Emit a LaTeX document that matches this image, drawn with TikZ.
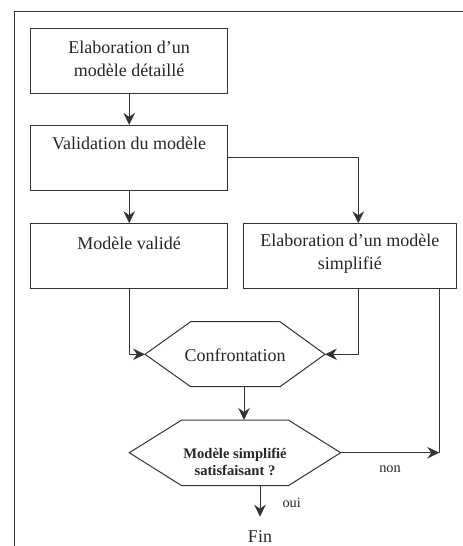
\documentclass[tikz,border=0pt]{standalone}
\usepackage{fontspec}
\setmainfont{Liberation Serif}
\usetikzlibrary{arrows.meta}
\begin{document}
\begin{tikzpicture}[x=1pt,y=-1pt,
  ln/.style={draw=black!80,line width=1pt},
  arr/.style={ln,-{Stealth[length=12pt,width=11.5pt,inset=4pt]}},
  boxnode/.style={ln,rectangle,minimum height=65pt,inner sep=0pt},
  txt/.style={inner sep=0pt,align=center,text=black!85,font=\fontsize{18}{22.5}\selectfont},
  btxt/.style={inner sep=0pt,align=center,text=black!85,font=\fontsize{14.6}{17}\selectfont\bfseries},
  stxt/.style={inner sep=0pt,text=black!85,font=\fontsize{14.3}{17}\selectfont}]
\useasboundingbox (0,0) rectangle (463,546);
% frame
\draw[ln] (14,546) -- (14,11) -- (463,11);
% boxes
\node[boxnode,minimum width=197pt] (b1) at (129.2,60.8) {};
\node[boxnode,minimum width=197pt] (b2) at (129.2,157.9) {};
\node[boxnode,minimum width=197pt] (b3) at (129.2,256.2) {};
\node[boxnode,minimum width=212.3pt] (b4) at (349.85,256.2) {};
\node[txt] (t1) at (129.2,59) {Elaboration d’un\\modèle détaillé};
\node[txt] (t2) at (129.2,143.5) {Validation du modèle};
\node[txt] (t3) at (129.2,243) {Modèle validé};
\node[txt] (t4) at (349.85,253.5) {Elaboration d’un modèle\\simplifié};
% hexagons
\coordinate (conf) at (235,354.3);
\coordinate (cw) at (145,354.3);
\coordinate (ce) at (325,354.3);
\draw[ln] (cw) -- (190.7,321.7) -- (280,321.7) -- (ce) -- (280,386.7) -- (190.7,386.7) -- cycle;
\node[txt] (tc) at (235,355.5) {Confrontation};
\coordinate (dw) at (129.3,452.7);
\coordinate (de) at (340.7,452.7);
\draw[ln] (dw) -- (181.7,420) -- (288.3,420) -- (de) -- (288.3,485.7) -- (181.7,485.7) -- cycle;
\node[btxt] (td) at (235,462) {Modèle simplifié\\satisfaisant ?};
\node[txt] (fin) at (260,537) {Fin};
\node[stxt] (non) at (390,469) {non};
\node[stxt] (oui) at (291.7,502.5) {oui};
% connectors
\coordinate (b4in) at (358.3,223.3);
\coordinate (b4o1) at (358.3,289);
\coordinate (b4o2) at (439.3,289);
\coordinate (loop) at (439.3,452.7);
\coordinate (cs) at (244,386.7);
\coordinate (dn) at (244,420);
\coordinate (ds) at (260,485.7);
\coordinate (finin) at (260,516.7);
\draw[arr] (b1.south) -- (b2.north);
\draw[arr] (b2.south) -- (b3.north);
\draw[arr] (b2.east) -| (b4in);
\draw[arr] (b3.south) |- (cw);
\draw[arr] (b4o1) |- (ce);
\draw[ln] (b4o2) -- (loop);
\draw[arr] (de) -- (loop);
\draw[arr] (cs) -- (dn);
\draw[arr] (ds) -- (finin);
\end{tikzpicture}
\end{document}
